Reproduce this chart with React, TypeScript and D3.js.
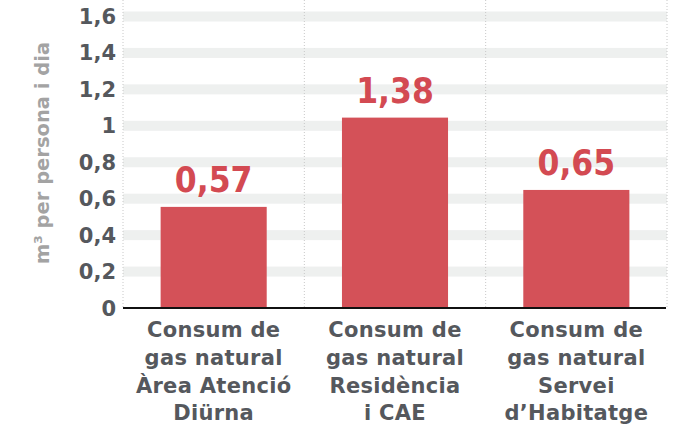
import React from "react";
import * as d3 from "d3";

const categories: string[][] = [
  ["Consum de", "gas natural", "Àrea Atenció", "Diürna"],
  ["Consum de", "gas natural", "Residència", "i CAE"],
  ["Consum de", "gas natural", "Servei", "d’Habitatge"],
];
const barValues: number[] = [0.555, 1.045, 0.648];
const valueLabels: string[] = ["0,57", "1,38", "0,65"];
const tickValues: number[] = [0, 0.2, 0.4, 0.6, 0.8, 1, 1.2, 1.4, 1.6];
const tickLabels: string[] = ["0", "0,2", "0,4", "0,6", "0,8", "1", "1,2", "1,4", "1,6"];
const yTitle = "m³ per persona i dia";

const W = 675;
const H = 427;
const left = 123;
const right = 667;
const baseY = 308;
const topY = 16.5;

const BAR = "#d45158";
const LABEL = "#d34a52";
const DARK = "#55585d";
const TITLE = "#a3a3a3";
const BAND = "#eef0ef";
const SANS = "'DejaVu Sans', sans-serif";
const COND = "'DejaVu Sans Condensed', 'Liberation Sans Narrow', sans-serif";

export default function App() {
  const idx = categories.map((_, i) => String(i));
  const x = d3.scaleBand<string>().domain(idx).range([left, right]).paddingInner(0.415).paddingOuter(0.2075);
  const y = d3.scaleLinear().domain([0, 1.6]).range([baseY, topY]);
  const step = x.step();
  const dividers = d3.range(categories.length + 1).map((i) => left + i * step);

  return (
    <svg width={W} height={H} style={{ position: "absolute", left: 0, top: 0, background: "#fff" }}>
      {tickValues.filter((t) => t > 0).map((t) => (
        <rect key={"b" + t} x={left} y={y(t) - 5} width={right - left} height={10} fill={BAND} />
      ))}
      {dividers.map((dx, i) => (
        <line key={"v" + i} x1={dx} x2={dx} y1={0} y2={baseY} stroke="#c8c8c8" strokeWidth={1} strokeDasharray="1,2" />
      ))}
      {barValues.map((v, i) => (
        <rect key={"r" + i} x={x(String(i))} y={y(v)} width={x.bandwidth()} height={baseY - y(v)} fill={BAR} />
      ))}
      <line x1={left} x2={right - 1} y1={baseY} y2={baseY} stroke="#111" strokeWidth={2} />
      {tickValues.map((t, i) => (
        <text key={"t" + t} x={116} y={y(t)} dy="0.36em" textAnchor="end" fontFamily={SANS} fontWeight="bold" fontSize={21} fill={DARK}>
          {tickLabels[i]}
        </text>
      ))}
      {barValues.map((v, i) => (
        <text key={"l" + i} x={(x(String(i)) as number) + x.bandwidth() / 2} y={y(v) - 15} textAnchor="middle" fontFamily={COND} fontWeight="bold" fontSize={35} fill={LABEL}>
          {valueLabels[i]}
        </text>
      ))}
      {categories.map((lines, i) => (
        <text key={"c" + i} x={(x(String(i)) as number) + x.bandwidth() / 2} textAnchor="middle" fontFamily={SANS} fontWeight="bold" fontSize={21} letterSpacing={0.3} fill={DARK}>
          {lines.map((ln, j) => (
            <tspan key={j} x={(x(String(i)) as number) + x.bandwidth() / 2} y={337 + j * 27.8}>
              {ln}
            </tspan>
          ))}
        </text>
      ))}
      <text transform={`translate(49,153) rotate(-90)`} textAnchor="middle" fontFamily={SANS} fontWeight="bold" fontSize={19.5} fill={TITLE}>
        {yTitle}
      </text>
    </svg>
  );
}
